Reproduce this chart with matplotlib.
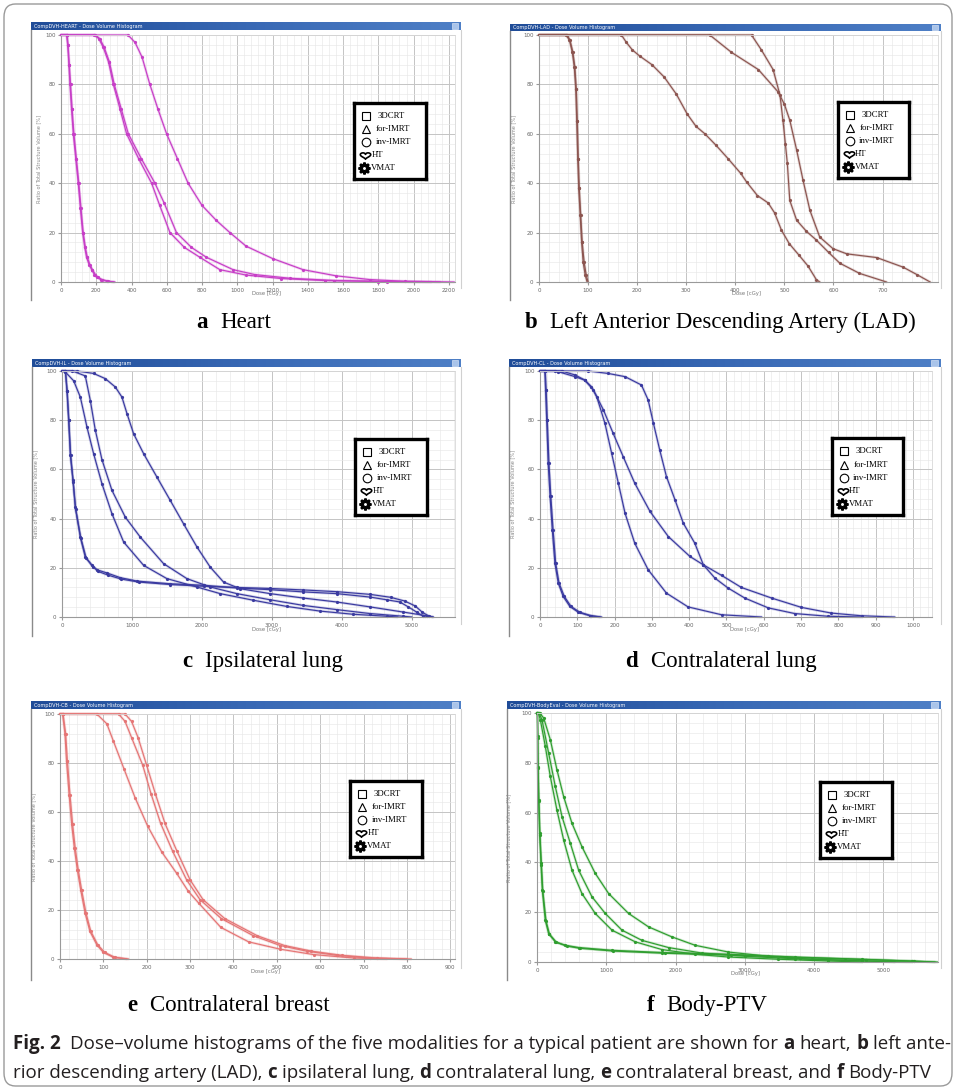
import numpy as np
import matplotlib
matplotlib.use("Agg")
import matplotlib.pyplot as plt
from matplotlib.patches import FancyBboxPatch, Rectangle
from matplotlib.path import Path
from matplotlib.ticker import MultipleLocator, AutoMinorLocator
from matplotlib.colors import LinearSegmentedColormap
from matplotlib import font_manager

# ---------------- data (dose in cGy, volume in %) ----------------
modalities = ["3DCRT", "for-IMRT", "inv-IMRT", "HT", "VMAT"]

# a Heart
heart_1_dose = [0, 32, 38, 45, 51, 60, 70, 84, 98, 110, 123, 135, 145, 160, 174, 190, 202, 225, 260, 300]
heart_1_vol = [100, 100, 96, 88, 80, 70, 60, 50, 40, 30, 20, 14, 10, 7, 5, 3, 2, 1, 0.3, 0]
heart_2_dose = [0, 34, 40, 47, 54, 63, 73, 87, 101, 113, 126, 138, 149, 164, 178, 195, 208, 232, 268, 305]
heart_2_vol = [100, 100, 96, 88, 80, 70, 60, 50, 40, 30, 20, 14, 10, 7, 5, 3, 2, 1, 0.3, 0]
heart_3_dose = [0, 190, 215, 240, 270, 297, 335, 372, 440, 514, 560, 618, 700, 788, 901, 1050, 1250, 1500, 1800, 2100]
heart_3_vol = [100, 100, 98.5, 95, 89, 80, 70, 60, 50, 40, 31, 20, 14, 10, 5, 2.8, 1.4, 0.6, 0.2, 0]
heart_4_dose = [0, 195, 220, 245, 275, 302, 342, 382, 455, 533, 585, 655, 740, 825, 976, 1100, 1300, 1550, 1850, 2150]
heart_4_vol = [100, 100, 98.5, 95, 89, 80, 70, 60, 50, 40, 32, 20, 14, 10, 5, 3, 1.5, 0.6, 0.2, 0]
heart_5_dose = [0, 380, 420, 460, 504, 550, 599, 660, 721, 800, 880, 958, 1050, 1200, 1373, 1560, 1750, 1950, 2230]
heart_5_vol = [100, 100, 97, 91, 80, 70, 60, 50, 40, 31, 25, 20, 14.5, 9.5, 5, 2.5, 1.0, 0.3, 0]

# b LAD
lad_1_dose = [0, 55, 62, 68, 72, 75, 77, 79, 81, 84, 87, 90, 94, 98]
lad_1_vol = [100, 100, 98, 93, 87, 78, 65, 50, 38, 27, 16, 8, 3, 0]
lad_2_dose = [0, 57, 63, 69, 73, 76, 78, 80, 82, 85, 88, 92, 96, 100]
lad_2_vol = [100, 100, 98, 93, 87, 78, 65, 50, 38, 27, 16, 8, 3, 0]
lad_3_dose = [0, 168, 178, 190, 205, 230, 255, 280, 302, 320, 338, 360, 385, 411, 423, 445, 467, 480, 494, 510, 530, 548, 565, 572]
lad_3_vol = [100, 100, 97, 94, 91.5, 88, 83, 76, 68, 63, 60, 55.5, 50, 44, 40.5, 35, 32, 28, 21, 15.5, 10.8, 6.5, 1, 0]
lad_4_dose = [0, 433, 453, 477, 491, 497, 502, 506, 511, 525, 545, 565, 590, 613, 653, 708]
lad_4_vol = [100, 100, 94, 86, 75.7, 65.5, 56, 48, 33, 25, 20.5, 17, 12, 7.6, 3.5, 0]
lad_5_dose = [0, 348, 392, 447, 487, 500, 511, 525, 538, 552, 572, 599, 627, 688, 742, 770, 797]
lad_5_vol = [100, 100, 93, 86, 77, 72, 65.5, 53.4, 41.2, 29, 18.2, 13.5, 11.4, 9.9, 6, 3, 0]

# c Ipsilateral lung
il_1_dose = [0, 48, 71, 95, 119, 157, 190, 262, 333, 429, 500, 643, 833, 1071, 1548, 2024, 2500, 2976, 3452, 3929, 4405, 4643, 4833, 4952, 5071, 5167, 5200]
il_1_vol = [100, 100, 92, 80, 66, 55.6, 44.7, 32.5, 24.4, 21, 19.2, 17.9, 16, 14.6, 13.5, 12.9, 11.8, 11.1, 10.2, 9.5, 8.1, 7, 6.1, 4.1, 2, 0.3, 0]
il_2_dose = [0, 50, 74, 98, 123, 160, 195, 270, 345, 440, 520, 660, 850, 1100, 1550, 2024, 2500, 2976, 3452, 3929, 4405, 4700, 4900, 5050, 5150, 5250, 5300]
il_2_vol = [100, 100, 92, 80, 66, 55, 44, 32, 24, 20.5, 18.5, 17, 15.4, 14.2, 13.2, 12.5, 12, 11.6, 11, 10.3, 9.2, 8, 6.5, 4.5, 2, 0.3, 0]
il_3_dose = [0, 48, 167, 262, 357, 452, 571, 714, 881, 1167, 1500, 1929, 2262, 2738, 3214, 3690, 4167, 4643, 4800]
il_3_vol = [100, 99.6, 96, 89.4, 77.2, 66.4, 54.2, 42, 30.5, 21, 15.6, 12.2, 9.5, 6.8, 4.3, 2.4, 1.1, 0.3, 0]
il_4_dose = [0, 150, 333, 405, 476, 571, 714, 905, 1119, 1452, 1786, 2119, 2500, 2976, 3452, 3929, 4405, 4881, 5000]
il_4_vol = [100, 100, 98, 88, 76, 64, 51.5, 40.6, 32.5, 21.7, 15.6, 12.2, 9.5, 7, 4.7, 3, 1.4, 0.3, 0]
il_5_dose = [0, 214, 452, 619, 762, 857, 929, 1024, 1167, 1357, 1548, 1738, 1929, 2119, 2310, 2548, 2976, 3452, 3929, 4405, 4881, 5214, 5310]
il_5_vol = [100, 100, 99, 96.9, 93.5, 89.4, 82.7, 74.5, 66.4, 56.9, 47.4, 37.9, 28.5, 20.3, 14.2, 11.5, 9.5, 7.7, 6.1, 4.1, 2, 0.5, 0]

# d Contralateral lung
cl_1_dose = [0, 13, 15, 18, 22, 27, 33, 40, 49, 62, 80, 103, 134, 161]
cl_1_vol = [100, 100, 92.3, 80, 62.5, 49, 35.5, 21.9, 13.8, 8.4, 4.3, 1.9, 0.5, 0]
cl_2_dose = [0, 14, 16.5, 19.5, 24, 29, 35, 42, 51, 65, 83, 107, 138, 165]
cl_2_vol = [100, 100, 92.3, 80, 62.5, 49, 35.5, 21.9, 13.8, 8.4, 4.3, 1.9, 0.5, 0]
cl_3_dose = [0, 40, 49, 94, 120, 138, 152, 174, 192, 210, 228, 254, 290, 339, 397, 487, 594]
cl_3_vol = [100, 100, 99.7, 97.7, 96.3, 93.6, 89.6, 78.8, 66.6, 54.4, 42.2, 30, 19.2, 9.7, 4.1, 0.9, 0]
cl_4_dose = [0, 58, 94, 120, 143, 170, 196, 223, 254, 295, 344, 402, 438, 487, 540, 621, 701, 781, 862, 951]
cl_4_vol = [100, 100, 98.4, 96.3, 92.3, 84.2, 74.7, 65.2, 54.4, 42.9, 32.7, 24.6, 21.2, 16.9, 12, 7.7, 3.9, 1.6, 0.5, 0]
cl_5_dose = [0, 129, 183, 228, 272, 290, 304, 321, 339, 362, 384, 415, 438, 469, 504, 549, 612, 683, 772, 862]
cl_5_vol = [100, 100, 99, 97.7, 94.3, 88.2, 78.8, 67.9, 57.1, 47.6, 38.2, 30, 21.2, 15.8, 11.8, 7.7, 3.7, 1.4, 0.3, 0]

# e Contralateral breast
cb_1_dose = [0, 6, 11.5, 15, 21, 27, 33, 40, 48, 58, 69, 85, 100, 123, 154]
cb_1_vol = [100, 100, 92, 81, 67.1, 55, 45.4, 36.4, 28, 18.7, 11.3, 5.8, 2.7, 0.7, 0]
cb_2_dose = [0, 7, 13, 17, 23, 29, 35, 42, 50, 60, 71, 87, 103, 126, 158]
cb_2_vol = [100, 100, 92, 81, 67.1, 55, 45.4, 36.4, 28, 18.7, 11.3, 5.8, 2.7, 0.7, 0]
cb_3_dose = [0, 85, 108, 123, 148, 173, 202, 235, 269, 296, 320, 371, 435, 508, 585, 677, 754]
cb_3_vol = [100, 100, 96, 89, 77.4, 65.9, 54.3, 43.6, 35, 27.6, 22.8, 12.9, 7, 4, 1.8, 0.4, 0]
cb_4_dose = [0, 135, 150, 165, 191, 210, 232, 260, 292, 323, 372, 446, 508, 569, 638, 715, 800]
cb_4_vol = [100, 100, 97, 90.4, 79, 67.4, 55.4, 43.9, 32.3, 24.2, 16.5, 9.5, 5.5, 3.2, 1.5, 0.4, 0]
cb_5_dose = [0, 150, 165, 180, 200, 220, 242, 270, 300, 330, 380, 455, 518, 580, 650, 730, 810]
cb_5_vol = [100, 100, 97, 90.4, 79, 67.4, 55.4, 43.9, 32.3, 24.2, 16.5, 9.5, 5.5, 3.2, 1.5, 0.4, 0]

# f Body-PTV
bp_1_dose = [0, 5, 10, 14, 24, 38, 58, 77, 120, 168, 264, 409, 601, 1082, 1803, 2764, 3726, 4688, 5409, 5745]
bp_1_vol = [100, 100, 90.6, 78.5, 65, 51.7, 39.6, 28.9, 16.8, 11.4, 8.1, 6.7, 5.8, 4.7, 3.8, 3.1, 2, 1.1, 0.4, 0]
bp_2_dose = [0, 6, 12, 17, 28, 43, 64, 84, 130, 180, 280, 430, 620, 1100, 1850, 2800, 3800, 4750, 5450, 5780]
bp_2_vol = [100, 100, 90, 78, 64.5, 51, 39, 28.5, 16.5, 11.2, 7.9, 6.4, 5.5, 4.4, 3.5, 2.8, 1.8, 1.0, 0.3, 0]
bp_3_dose = [0, 20, 48, 120, 192, 288, 385, 505, 649, 841, 1082, 1418, 1803, 2284, 2764, 3486, 4207, 4688]
bp_3_vol = [100, 100, 97.3, 86.6, 74.5, 61, 49, 36.9, 27.5, 19.5, 12.8, 8.1, 5, 3.1, 2, 1.1, 0.4, 0]
bp_4_dose = [0, 30, 72, 168, 264, 361, 481, 601, 793, 986, 1226, 1514, 1899, 2380, 3005, 3726, 4447, 5168]
bp_4_vol = [100, 100, 97.3, 83.9, 70.5, 58.4, 47.7, 36.9, 26.2, 19.5, 12.8, 8.7, 5.8, 3.6, 2.3, 1.3, 0.7, 0]
bp_5_dose = [0, 40, 96, 192, 288, 385, 505, 649, 841, 1034, 1322, 1611, 1947, 2284, 2764, 3341, 3966, 4688, 5409]
bp_5_vol = [100, 100, 98, 89.3, 77.2, 66.4, 55.7, 46.3, 35.6, 27.5, 19.5, 14.1, 10.1, 6.7, 4, 2.3, 1.1, 0.4, 0]

# ---------------- figure ----------------
W, H = 956, 1091
fig = plt.figure(figsize=(W / 100, H / 100), dpi=100)
fig.patch.set_facecolor("white")
renderer = fig.canvas.get_renderer()


def fx(x):
    return x / W


def fy(y):
    return 1 - y / H


def axes_px(x0, y0, x1, y1, **kw):
    return fig.add_axes([fx(x0), fy(y1), (x1 - x0) / W, (y1 - y0) / H], **kw)


# heart-shaped legend marker
_t = np.linspace(0, 2 * np.pi, 80)
_hx = np.sin(_t) ** 3
_hy = (13 * np.cos(_t) - 5 * np.cos(2 * _t) - 2 * np.cos(3 * _t) - np.cos(4 * _t)) / 17.0 * 0.72
heart_marker = Path(np.column_stack([_hx, _hy]), closed=True)

# outer rounded frame
frame = FancyBboxPatch((fx(4), fy(1086)), fx(948), (1082) / H,
                       boxstyle="round,pad=0,rounding_size=0.012",
                       transform=fig.transFigure, fill=False,
                       edgecolor="#9a9a9a", linewidth=1.0)
fig.patches.append(frame)

title_cmap = LinearSegmentedColormap.from_list("tb", ["#1f4c98", "#3868b4", "#4e7fc6"])

panels = [
    dict(curves=[(heart_1_dose, heart_1_vol), (heart_2_dose, heart_2_vol), (heart_3_dose, heart_3_vol),
                 (heart_4_dose, heart_4_vol), (heart_5_dose, heart_5_vol)],
         ax=(61, 35, 455, 282), xmax=2235, major=200, tickmax=2200, color="#c73ec7",
         win=(31, 22, 461, 30, 300), ylab_x=39, legend=(354, 103, 426, 179),
         title="CompDVH-HEART - Dose Volume Histogram",
         letter="a", name="Heart", cap=(234, 328)),
    dict(curves=[(lad_1_dose, lad_1_vol), (lad_2_dose, lad_2_vol), (lad_3_dose, lad_3_vol),
                 (lad_4_dose, lad_4_vol), (lad_5_dose, lad_5_vol)],
         ax=(539, 35, 938, 282), xmax=813, major=100, tickmax=700, color="#8c5550",
         win=(510, 24, 941, 31, 300), ylab_x=514, legend=(838, 102, 909, 178),
         title="CompDVH-LAD - Dose Volume Histogram",
         letter="b", name="Left Anterior Descending Artery (LAD)", cap=(720, 328)),
    dict(curves=[(il_1_dose, il_1_vol), (il_2_dose, il_2_vol), (il_3_dose, il_3_vol),
                 (il_4_dose, il_4_vol), (il_5_dose, il_5_vol)],
         ax=(62, 371, 455, 617), xmax=5620, major=1000, tickmax=5000, color="#3a3aa0",
         win=(32, 359, 461, 367, 636), ylab_x=36, legend=(355, 439, 427, 515),
         title="CompDVH-IL - Dose Volume Histogram",
         letter="c", name="Ipsilateral lung", cap=(263, 667)),
    dict(curves=[(cl_1_dose, cl_1_vol), (cl_2_dose, cl_2_vol), (cl_3_dose, cl_3_vol),
                 (cl_4_dose, cl_4_vol), (cl_5_dose, cl_5_vol)],
         ax=(540, 371, 932, 617), xmax=1051, major=100, tickmax=1000, color="#3a3aa0",
         win=(509, 359, 941, 367, 636), ylab_x=513, legend=(832, 438, 903, 515),
         title="CompDVH-CL - Dose Volume Histogram",
         letter="d", name="Contralateral lung", cap=(721, 667)),
    dict(curves=[(cb_1_dose, cb_1_vol), (cb_2_dose, cb_2_vol), (cb_3_dose, cb_3_vol),
                 (cb_4_dose, cb_4_vol), (cb_5_dose, cb_5_vol)],
         ax=(60, 714, 455, 959), xmax=911, major=100, tickmax=900, color="#e57575",
         win=(31, 701, 461, 709, 980), ylab_x=34, legend=(350, 781, 422, 857),
         title="CompDVH-CB - Dose Volume Histogram",
         letter="e", name="Contralateral breast", cap=(228, 1011)),
    dict(curves=[(bp_1_dose, bp_1_vol), (bp_2_dose, bp_2_vol), (bp_3_dose, bp_3_vol),
                 (bp_4_dose, bp_4_vol), (bp_5_dose, bp_5_vol)],
         ax=(537, 713, 938, 962), xmax=5790, major=1000, tickmax=5000, color="#2f9e2f",
         win=(507, 701, 941, 709, 980), ylab_x=509, legend=(820, 782, 892, 858),
         title="CompDVH-BodyEval - Dose Volume Histogram",
         letter="f", name="Body-PTV", cap=(707, 1011)),
]

serif = "Liberation Serif"

for p in panels:
    wx0, wy0, wx1, wy1, wyb = p["win"]
    # window left / right borders
    fig.add_artist(plt.Line2D([fx(wx0), fx(wx0)], [fy(wy1), fy(wyb)], transform=fig.transFigure,
                              color="#8a8a8a", lw=1.0))
    fig.add_artist(plt.Line2D([fx(wx1), fx(wx1)], [fy(wy1), fy(wyb - 12)], transform=fig.transFigure,
                              color="#d0d0d0", lw=0.8))
    # title bar
    tb = axes_px(wx0, wy0, wx1, wy1)
    tb.imshow(np.linspace(0, 1, 200)[None, :], cmap=title_cmap, aspect="auto",
              extent=(0, 1, 0, 1))
    tb.set_xlim(0, 1)
    tb.set_ylim(0, 1)
    tb.axis("off")
    tb.text(0.006, 0.45, p["title"], color="white", fontsize=3.6, va="center", ha="left")
    tb.add_patch(Rectangle((0.978, 0.12), 0.014, 0.76, facecolor="#a9c4ea", edgecolor="#e8f0fb", lw=0.4))

    # plot area
    x0, y0, x1, y1 = p["ax"]
    ax = axes_px(x0, y0, x1, y1)
    ax.set_facecolor("white")
    ax.set_xlim(0, p["xmax"])
    ax.set_ylim(0, 100)
    ax.xaxis.set_major_locator(MultipleLocator(p["major"]))
    ax.yaxis.set_major_locator(MultipleLocator(20))
    ax.xaxis.set_minor_locator(AutoMinorLocator(5))
    ax.yaxis.set_minor_locator(AutoMinorLocator(5))
    ax.grid(which="major", color="#c4c4c4", lw=0.7)
    ax.grid(which="minor", color="#e8e8e8", lw=0.45)
    ax.set_axisbelow(True)
    xt = np.arange(0, p["tickmax"] + 1, p["major"])
    ax.set_xticks(xt)
    ax.set_xticklabels([str(int(v)) for v in xt])
    ax.tick_params(which="both", length=0, labelsize=4.0, labelcolor="#666666", pad=2)
    ax.tick_params(which="major", axis="both", length=2, color="#999999")
    for s in ("top", "right"):
        ax.spines[s].set_color("#d8d8d8")
        ax.spines[s].set_linewidth(0.6)
    for s in ("left", "bottom"):
        ax.spines[s].set_color("#9a9a9a")
        ax.spines[s].set_linewidth(0.8)

    for d, v in p["curves"]:
        ax.plot(d, v, color=p["color"], lw=2.0, alpha=0.22, clip_on=False, solid_capstyle="round")
        ax.plot(d, v, color=p["color"], lw=0.85, marker="o", ms=1.3, markevery=slice(1, -1),
                clip_on=False)

    fig.text(fx((x0 + x1) / 2 + 8), fy(y1 + 12), "Dose [cGy]", fontsize=3.8, color="#777777",
             ha="center", va="center")
    fig.text(fx(p["ylab_x"]), fy((y0 + y1) / 2), "Ratio of Total Structure Volume [%]",
             fontsize=3.6, color="#888888", rotation=90, ha="center", va="center")

    # legend box
    lx0, ly0, lx1, ly1 = p["legend"]
    lg = axes_px(lx0, ly0, lx1, ly1)
    lg.set_xlim(0, 1)
    lg.set_ylim(0, 1)
    lg.set_xticks([])
    lg.set_yticks([])
    lg.set_facecolor("white")
    for s in lg.spines.values():
        s.set_linewidth(2.4)
        s.set_color("black")
    rows = [0.83, 0.655, 0.485, 0.315, 0.14]
    lg.plot([0.17], [rows[0]], marker="s", ms=5.8, mfc="white", mec="black", mew=0.8)
    lg.plot([0.17], [rows[1]], marker="^", ms=6.2, mfc="white", mec="black", mew=0.8)
    lg.plot([0.17], [rows[2]], marker="o", ms=6.2, mfc="white", mec="black", mew=0.8)
    lg.plot([0.15], [rows[3]], marker=heart_marker, ms=7.5, mfc="white", mec="black", mew=1.2)
    lg.plot([0.14], [rows[4]], marker=(8, 1, 0), ms=8.5, mfc="white", mec="black", mew=1.7)
    lg.plot([0.14], [rows[4]], marker="o", ms=3.0, mfc="white", mec="black", mew=0.9)
    txt_x = [0.33, 0.30, 0.30, 0.24, 0.24]
    for lab, yy, tx in zip(modalities, rows, txt_x):
        lg.text(tx, yy, lab, fontsize=6.3, family=serif, ha="left", va="center")

# ---------------- panel captions ----------------
probe = fig.text(0, 0, "Left Anterior Descending Artery (LAD)", fontsize=16, family=serif)
pw = probe.get_window_extent(renderer).width
probe.remove()
cap_size = 16 * 367 / pw

for p in panels:
    cx, cy = p["cap"]
    tl = fig.text(0, 0, p["letter"], fontsize=cap_size, family=serif, fontweight="bold")
    tn = fig.text(0, 0, p["name"], fontsize=cap_size, family=serif)
    wl = tl.get_window_extent(renderer).width
    wn = tn.get_window_extent(renderer).width
    gap = 0.55 * cap_size * 100 / 72
    total = wl + gap + wn
    xl = cx - total / 2
    tl.set_position((fx(xl), fy(cy)))
    tn.set_position((fx(xl + wl + gap), fy(cy)))
    tl.set_va("baseline")
    tn.set_va("baseline")

# ---------------- figure caption ----------------
cap_family = "DejaVu Sans"
for cand in ["Liberation Sans Narrow", "Open Sans", "Lato"]:
    try:
        font_manager.findfont(font_manager.FontProperties(family=cand), fallback_to_default=False)
        cap_family = cand
        break
    except Exception:
        pass

line1 = [("Fig. 2", "bold", 2.0),
         ("Dose\u2013volume histograms of the five modalities for a typical patient are shown for", "normal", 1),
         ("a", "bold", 1), ("heart,", "normal", 1), ("b", "bold", 1), ("left ante-", "normal", 0)]
line2 = [("rior descending artery (LAD),", "normal", 1), ("c", "bold", 1), ("ipsilateral lung,", "normal", 1),
         ("d", "bold", 1), ("contralateral lung,", "normal", 1), ("e", "bold", 1),
         ("contralateral breast, and", "normal", 1), ("f", "bold", 1), ("Body-PTV", "normal", 0)]


def measure(s, size, weight):
    t = fig.text(0, 0, s, fontsize=size, family=cap_family, fontweight=weight)
    w = t.get_window_extent(renderer).width
    t.remove()
    return w


def line_width(runs, size):
    sp = measure("a a", size, "normal") - measure("aa", size, "normal")
    return sum(measure(s, size, wt) + n * sp for s, wt, n in runs), sp


w1, _ = line_width(line1, 12)
csize = 12 * 936 / w1


def draw_line(runs, x, y, size):
    _, sp = line_width(runs, size)
    for s, wt, n in runs:
        t = fig.text(fx(x), fy(y), s, fontsize=size, family=cap_family, fontweight=wt,
                     va="baseline", ha="left", color="#231f20")
        x += t.get_window_extent(renderer).width + n * sp


draw_line(line1, 13, 1049, csize)
draw_line(line2, 13, 1078, csize)

fig.savefig("out.png", dpi=100, facecolor="white")
